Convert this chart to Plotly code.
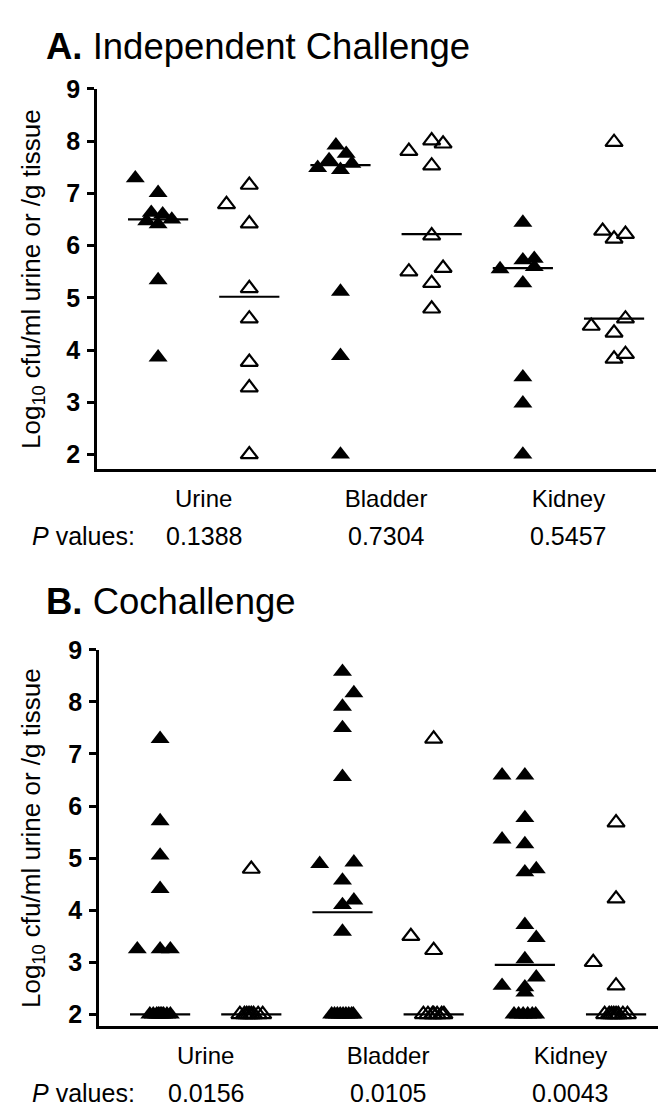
import plotly.graph_objects as go

W, H = 664, 1118

organs = ["Urine", "Bladder", "Kidney"]
y_ticks = [2, 3, 4, 5, 6, 7, 8, 9]

# ---- Panel A: independent challenge (log10 cfu) ----
indep_urine_solid = [7.29, 7.01, 6.63, 6.60, 6.50, 6.47, 6.41, 5.34, 3.86]
indep_urine_open = [7.16, 6.79, 6.42, 5.18, 4.60, 3.77, 3.28, 2.00]
indep_bladder_solid = [7.92, 7.76, 7.64, 7.57, 7.49, 7.45, 5.12, 3.89, 2.00]
indep_bladder_open = [8.01, 7.95, 7.81, 7.53, 6.19, 5.57, 5.50, 5.28, 4.79]
indep_kidney_solid = [6.44, 5.75, 5.72, 5.59, 5.55, 5.28, 3.48, 2.98, 2.00]
indep_kidney_open = [7.98, 6.28, 6.22, 6.13, 4.60, 4.46, 4.33, 3.92, 3.83]
indep_medians = [6.50, 5.02, 7.54, 6.22, 5.57, 4.60]
indep_p_values = ["0.1388", "0.7304", "0.5457"]

# ---- Panel B: cochallenge (log10 cfu) ----
co_urine_solid = [7.29, 5.71, 5.05, 4.41, 3.25, 3.25, 3.25,
                  2.00, 2.00, 2.00, 2.00, 2.00, 2.00, 2.00, 2.00, 2.00]
co_urine_open = [4.79, 2.00, 2.00, 2.00, 2.00, 2.00, 2.00, 2.00, 2.00]
co_bladder_solid = [8.58, 8.17, 7.91, 7.50, 6.56, 4.92, 4.89, 4.57, 4.19, 4.10, 3.59,
                    2.00, 2.00, 2.00, 2.00, 2.00, 2.00, 2.00, 2.00, 2.00]
co_bladder_open = [7.29, 3.50, 3.23, 2.00, 2.00, 2.00, 2.00, 2.00, 2.00, 2.00]
co_kidney_solid = [6.59, 6.59, 5.77, 5.36, 5.27, 4.79, 4.73, 3.72, 3.47, 3.06,
                   2.71, 2.55, 2.52, 2.42, 2.00, 2.00, 2.00, 2.00, 2.00, 2.00]
co_kidney_open = [5.68, 4.22, 3.00, 2.55, 2.00, 2.00, 2.00, 2.00, 2.00, 2.00, 2.00, 2.00]
co_medians = [2.00, 2.00, 3.96, 2.00, 2.95, 2.00]
co_p_values = ["0.0156", "0.0105", "0.0043"]

# Horizontal scatter offsets (in half-marker slots) that keep tied points visible
indep_urine_solid_dx = [-2, 0, -0.6, 0.4, 1.2, -1, 0, 0, 0]
indep_urine_open_dx = [0, -2, 0, 0, 0, 0, 0, 0]
indep_bladder_solid_dx = [-0.4, 0.5, -1, 1, -2, 0, 0, 0, 0]
indep_bladder_open_dx = [0, 1, -2, 0, 0, 1, -2, 0, 0]
indep_kidney_solid_dx = [0, 1, 0, 1, -2, 0, 0, 0, 0]
indep_kidney_open_dx = [0, -1, 1, 0, 1, -2, 0, 1, 0]

co_urine_solid_dx = [0, 0, 0, 0, -2, 0, 0.9,
                     -0.9, -0.6, -0.3, 0, 0.3, 0.6, 0.9, -0.15, 0.15]
co_urine_open_dx = [0, -1, -0.6, -0.2, 0.2, 0.6, 1, 0, -0.4]
co_bladder_solid_dx = [0, 1, 0, 0, 0, 1, -2, 0, 1, 0, 0,
                       -0.95, -0.7, -0.45, -0.2, 0.05, 0.3, 0.55, 0.8, 0.95]
co_bladder_open_dx = [0, -2, 0, -0.9, -0.5, -0.1, 0.3, 0.7, 0.9, 0]
co_kidney_solid_dx = [-2, 0, 0, -2, 0, 1, 0, 0, 1, 0, 1, -2, 0, 0,
                      -0.95, -0.55, -0.15, 0.25, 0.65, 0.95]
co_kidney_open_dx = [0, 0, -2, 0, -1, -0.6, -0.2, 0.2, 0.6, 1, 0, -0.4]

SLOT = 0.125          # x-units per offset slot
HALF_LINE = 0.33      # half-width of median bars
X_RANGE = [0.33, 6.46]

FONT = "Liberation Sans, Arial, sans-serif"


def py(p):
    """pixel row (from top) -> paper fraction"""
    return 1 - p / H


panels = [
    dict(series=[indep_urine_solid, indep_urine_open, indep_bladder_solid,
                 indep_bladder_open, indep_kidney_solid, indep_kidney_open],
         offsets=[indep_urine_solid_dx, indep_urine_open_dx, indep_bladder_solid_dx,
                  indep_bladder_open_dx, indep_kidney_solid_dx, indep_kidney_open_dx],
         medians=indep_medians, pvals=indep_p_values,
         xdom=[97 / W, 656 / W], top=76, bottom=461.7, ymin=1.72,
         title="<b>A.</b> Independent Challenge", title_y=33),
    dict(series=[co_urine_solid, co_urine_open, co_bladder_solid,
                 co_bladder_open, co_kidney_solid, co_kidney_open],
         offsets=[co_urine_solid_dx, co_urine_open_dx, co_bladder_solid_dx,
                  co_bladder_open_dx, co_kidney_solid_dx, co_kidney_open_dx],
         medians=co_medians, pvals=co_p_values,
         xdom=[99 / W, 658 / W], top=645, bottom=1027, ymin=1.77,
         title="<b>B.</b> Cochallenge", title_y=596),
]

fig = go.Figure()
annotations = []
layout_axes = {}

for k, pan in enumerate(panels):
    sfx = "" if k == 0 else str(k + 1)
    xa, ya = "x" + sfx, "y" + sfx
    for i, (vals, dx) in enumerate(zip(pan["series"], pan["offsets"])):
        center = i + 1
        solid = i % 2 == 0
        fig.add_trace(go.Scatter(
            x=[center + d * SLOT for d in dx], y=vals, mode="markers",
            xaxis=xa, yaxis=ya, showlegend=False, cliponaxis=False,
            marker=dict(
                symbol="triangle-up" if solid else "triangle-up-open",
                size=16.5 if solid else 15,
                color="black",
                line=dict(color="black", width=0 if solid else 2.2),
            ),
        ))
        m = pan["medians"][i]
        fig.add_trace(go.Scatter(
            x=[center - HALF_LINE, center + HALF_LINE], y=[m, m], mode="lines",
            xaxis=xa, yaxis=ya, showlegend=False,
            line=dict(color="black", width=2.2),
        ))

    ydom = [py(pan["bottom"]), py(pan["top"])]
    layout_axes["xaxis" + sfx] = dict(
        domain=pan["xdom"], range=X_RANGE, anchor=ya,
        showline=True, linecolor="black", linewidth=2.5,
        showgrid=False, zeroline=False, ticks="",
        tickvals=[1.5, 3.5, 5.5], ticktext=organs,
        tickfont=dict(family=FONT, size=24, color="black"),
        ticklabelstandoff=6,
    )
    layout_axes["yaxis" + sfx] = dict(
        domain=ydom, range=[pan["ymin"], 9], anchor=xa,
        showline=True, linecolor="black", linewidth=2.5,
        showgrid=False, zeroline=False,
        tickvals=y_ticks, ticks="outside", ticklen=7, tickwidth=2.5, tickcolor="black",
        tickfont=dict(family=FONT, size=25, color="black", weight="bold"),
        ticklabelstandoff=2,
    )

    # panel title
    annotations.append(dict(
        text=pan["title"], xref="paper", yref="paper", x=44 / W, y=py(pan["title_y"]),
        xanchor="left", yanchor="middle", showarrow=False,
        font=dict(family=FONT, size=36.5, color="black"),
    ))
    # y-axis title
    annotations.append(dict(
        text="Log<sub>10</sub> cfu/ml urine or /g tissue", textangle=-90,
        xref="paper", yref="paper", x=32 / W, y=(ydom[0] + ydom[1]) / 2,
        xanchor="center", yanchor="middle", showarrow=False,
        font=dict(family=FONT, size=26, color="black"),
    ))
    # P values row
    prow = pan["bottom"] + 68
    annotations.append(dict(
        text="<i>P</i> values:", xref="paper", yref="paper", x=30 / W, y=py(prow),
        xanchor="left", yanchor="middle", showarrow=False,
        font=dict(family=FONT, size=25, color="black"),
    ))
    for j, pv in enumerate(pan["pvals"]):
        annotations.append(dict(
            text=pv, xref=xa, yref="paper", x=1.5 + 2 * j, y=py(prow),
            xanchor="center", yanchor="middle", showarrow=False,
            font=dict(family=FONT, size=25, color="black"),
        ))

fig.update_layout(
    width=W, height=H,
    margin=dict(l=0, r=0, t=0, b=0),
    paper_bgcolor="white", plot_bgcolor="white",
    annotations=annotations,
    **layout_axes,
)

fig.write_html("out.html")
